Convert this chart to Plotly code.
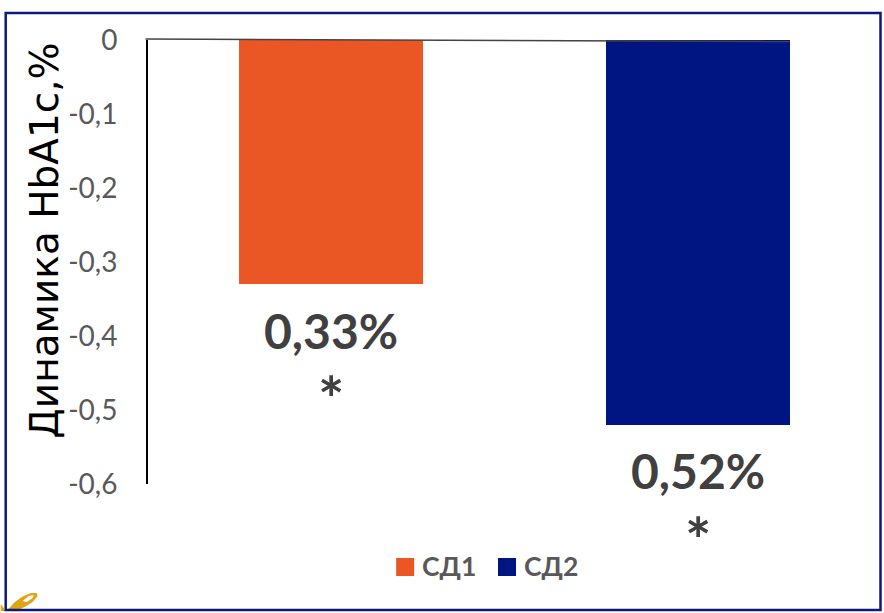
import plotly.graph_objects as go

# Change in HbA1c by diabetes type
groups = ["СД1", "СД2"]
changes = [-0.33, -0.52]
colors = ["#EA5725", "#001482"]
y_ticks = [0, -0.1, -0.2, -0.3, -0.4, -0.5, -0.6]
y_tick_labels = ["0", "-0,1", "-0,2", "-0,3", "-0,4", "-0,5", "-0,6"]
y_title = "Динамика HbA1c,%"
NAVY = "#0B1A78"
GOLD = "#DDA615"
W, H = 884, 613
LEFT, RIGHT, TOP, BOTTOM = 147.5, 881.5, 40, 484


def px(x):
    """Horizontal pixel position to paper fraction."""
    return (x - LEFT) / (RIGHT - LEFT)


def py(y):
    """Vertical pixel position to paper fraction."""
    return (BOTTOM - y) / (BOTTOM - TOP)


def paper_path(points):
    return "M " + " L ".join(f"{px(x):.5f},{py(y):.5f}" for x, y in points) + " Z"


fig = go.Figure()
for i, (name, val, col) in enumerate(zip(groups, changes, colors)):
    fig.add_trace(go.Bar(x=[i], y=[val], name=name, width=0.503,
                         marker=dict(color=col, line_width=0)))
    label = f"{abs(val):.2f}%".replace(".", ",")
    fig.add_annotation(x=i, y=val, text=f"<b>{label}</b>", showarrow=False,
                       yanchor="middle", yshift=-46,
                       font=dict(family="Lato", size=48, color="#404040"))
    fig.add_annotation(x=i, y=val, text="<b>*</b>", showarrow=False,
                       yanchor="middle", yshift=-114,
                       font=dict(family="Lato", size=62, color="#404040"))

# legend row: swatch and bold caption for each group
legend_swatch_left = [396, 498]
for name, col, sx in zip(groups, colors, legend_swatch_left):
    fig.add_shape(type="rect", xref="paper", yref="paper",
                  x0=px(sx), x1=px(sx + 18), y0=py(558), y1=py(576),
                  fillcolor=col, line_width=0)
    fig.add_annotation(xref="paper", yref="paper", x=px(sx + 24), y=py(566),
                       xanchor="left", yanchor="middle", showarrow=False,
                       text=f"<b>{name}</b>",
                       font=dict(family="Lato", size=26.5, color="#595959"))

# axis title, set on its own so it can sit left of the wide tick labels
fig.add_annotation(xref="paper", yref="paper", x=px(43), y=py(241),
                   text=y_title, textangle=-90, showarrow=False,
                   xanchor="center", yanchor="middle",
                   font=dict(family="DejaVu Sans", size=39, color="black"))

# small gold wing in the lower-left corner
fig.add_shape(type="path", xref="paper", yref="paper", layer="below",
              path=paper_path([(7, 610), (13, 603), (21, 597), (30, 593), (36, 593),
                               (37, 596), (32, 602), (24, 607), (17, 610)]),
              fillcolor=GOLD, line_width=0)
fig.add_shape(type="path", xref="paper", yref="paper", layer="below",
              path=paper_path([(22, 601), (28, 596), (33, 595), (32, 598), (26, 602)]),
              fillcolor="white", line_width=0)
fig.add_shape(type="path", xref="paper", yref="paper", layer="below",
              path=paper_path([(0, 604), (3, 608), (5, 611), (0, 611)]),
              fillcolor=GOLD, line_width=0)

# slide frame
fig.add_shape(type="rect", xref="paper", yref="paper",
              x0=px(5), x1=px(881), y0=py(610), y1=py(13),
              line=dict(color=NAVY, width=2.5), layer="below")

# zero baseline stops at the last bar and runs very slightly downhill
fig.add_shape(type="line", xref="paper", yref="paper",
              x0=px(145), x1=px(790), y0=py(39), y1=py(41.5),
              line=dict(color="#444444", width=1.5), layer="above")

fig.update_layout(
    width=W, height=H, autosize=False,
    margin=dict(l=LEFT, r=W - RIGHT, t=TOP, b=H - BOTTOM, pad=0),
    paper_bgcolor="white", plot_bgcolor="white",
    barmode="overlay", bargap=0,
    showlegend=False,
    xaxis=dict(range=[-0.5, 1.5], showticklabels=False, ticks="", showgrid=False,
               zeroline=False, showline=False, fixedrange=True),
    yaxis=dict(range=[-0.6, 0], tickvals=y_ticks, ticktext=y_tick_labels,
               showgrid=False, zeroline=False,
               showline=True, linecolor="black", linewidth=2, ticks="",
               ticklabelstandoff=23,
               tickfont=dict(family="Lato", size=28, color="#595959")),
)
fig.write_html("out.html")
